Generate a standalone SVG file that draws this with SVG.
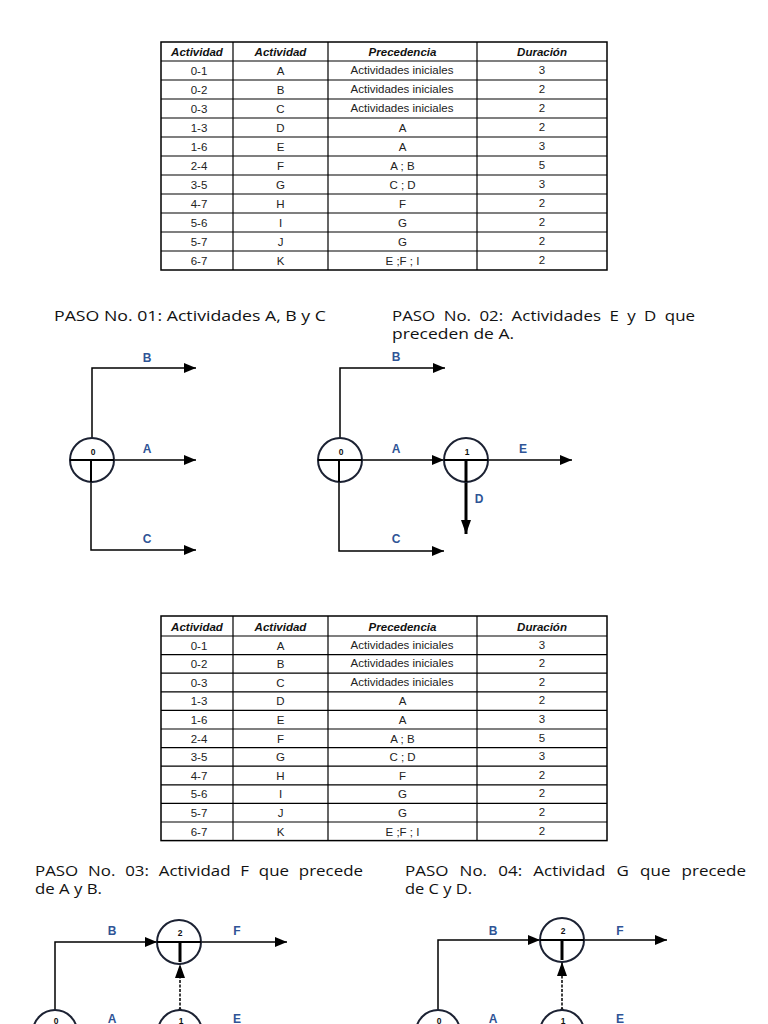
<svg xmlns="http://www.w3.org/2000/svg" width="768" height="1024" viewBox="0 0 768 1024">
<style>
.tl{stroke:#000;stroke-width:1.2;fill:none}
.tb{stroke:#000;stroke-width:1.5;fill:none}
.th{font-family:"Liberation Sans",Arial,sans-serif;font-size:11.5px;font-weight:bold;font-style:italic;text-anchor:middle;fill:#111}
.td{font-family:"Liberation Sans",Arial,sans-serif;font-size:11.5px;text-anchor:middle;fill:#222}
.title{font-family:"Open Sans","Noto Sans",sans-serif;font-size:15px;fill:#111}
.ln{stroke:#000;stroke-width:1.5;fill:none}
.thk{stroke:#000;stroke-width:3;fill:none}
.dash{stroke:#000;stroke-width:1.5;fill:none;stroke-dasharray:3 1.5}
.nc{fill:#fff;stroke:#1c2233;stroke-width:2}
.nd{stroke:#000;stroke-width:2;fill:none}
.nl{font-family:"Liberation Sans",Arial,sans-serif;font-size:8.5px;font-weight:bold;text-anchor:middle;fill:#111}
.el{font-family:"Liberation Sans",Arial,sans-serif;font-size:12px;font-weight:bold;text-anchor:middle;fill:#2F5496}
</style>
<defs>
<marker id="ah" viewBox="0 0 12 10" refX="12" refY="5" markerWidth="12" markerHeight="10" markerUnits="userSpaceOnUse" orient="auto"><path d="M0,0 L12,5 L0,10 z" fill="#000"/></marker>
<marker id="ahd" viewBox="0 0 14 10" refX="14" refY="5" markerWidth="14" markerHeight="10" markerUnits="userSpaceOnUse" orient="auto"><path d="M0,0 L14,5 L0,10 z" fill="#000"/></marker>
</defs>
<rect width="768" height="1024" fill="#fff"/>

<!-- Table 1 -->
<g id="table1">
<rect class="tb" x="161" y="42" width="446" height="228"/>
<path class="tl" d="M233,42V270M328,42V270M477,42V270"/>
<path class="tl" d="M161,61H607M161,80H607M161,99H607M161,118H607M161,137H607M161,156H607M161,175H607M161,194H607M161,213H607M161,232H607M161,251H607"/>
<text class="th" x="197" y="56">Actividad</text><text class="th" x="280.5" y="56">Actividad</text><text class="th" x="402.5" y="56">Precedencia</text><text class="th" x="542" y="56">Duración</text>
<text class="td" x="199" y="75">0-1</text><text class="td" x="280.5" y="75">A</text><text class="td" x="402" y="74">Actividades iniciales</text><text class="td" x="542" y="74">3</text>
<text class="td" x="199" y="94">0-2</text><text class="td" x="280.5" y="94">B</text><text class="td" x="402" y="93">Actividades iniciales</text><text class="td" x="542" y="93">2</text>
<text class="td" x="199" y="113">0-3</text><text class="td" x="280.5" y="113">C</text><text class="td" x="402" y="112">Actividades iniciales</text><text class="td" x="542" y="112">2</text>
<text class="td" x="199" y="132">1-3</text><text class="td" x="280.5" y="132">D</text><text class="td" x="402.5" y="132">A</text><text class="td" x="542" y="131">2</text>
<text class="td" x="199" y="151">1-6</text><text class="td" x="280.5" y="151">E</text><text class="td" x="402.5" y="151">A</text><text class="td" x="542" y="150">3</text>
<text class="td" x="199" y="170">2-4</text><text class="td" x="280.5" y="170">F</text><text class="td" x="402.5" y="170">A ; B</text><text class="td" x="542" y="169">5</text>
<text class="td" x="199" y="189">3-5</text><text class="td" x="280.5" y="189">G</text><text class="td" x="402.5" y="189">C ; D</text><text class="td" x="542" y="188">3</text>
<text class="td" x="199" y="208">4-7</text><text class="td" x="280.5" y="208">H</text><text class="td" x="402.5" y="208">F</text><text class="td" x="542" y="207">2</text>
<text class="td" x="199" y="227">5-6</text><text class="td" x="280.5" y="227">I</text><text class="td" x="402.5" y="227">G</text><text class="td" x="542" y="226">2</text>
<text class="td" x="199" y="246">5-7</text><text class="td" x="280.5" y="246">J</text><text class="td" x="402.5" y="246">G</text><text class="td" x="542" y="245">2</text>
<text class="td" x="199" y="265">6-7</text><text class="td" x="280.5" y="265">K</text><text class="td" x="402.5" y="265">E ;F ;  I</text><text class="td" x="542" y="264">2</text>
</g>

<!-- Titles -->
<text class="title" x="54" y="320.5" textLength="272" lengthAdjust="spacingAndGlyphs">PASO No. 01: Actividades A, B y C</text>
<text class="title" x="392" y="320.5" word-spacing="3.6" textLength="303" lengthAdjust="spacingAndGlyphs">PASO No. 02: Actividades E y D que</text>
<text class="title" x="392" y="339" textLength="122" lengthAdjust="spacingAndGlyphs">preceden de A.</text>

<!-- Step 1 -->
<g id="connectors1">
<path class="ln" d="M92,438V368H196" marker-end="url(#ah)"/>
<path class="ln" d="M114,460H196" marker-end="url(#ah)"/>
<path class="ln" d="M91,482V550H196" marker-end="url(#ah)"/>
<text class="el" x="147" y="362">B</text>
<text class="el" x="147" y="453">A</text>
<text class="el" x="147" y="543">C</text>
</g>
<g id="s1n0">
<circle class="nc" cx="92" cy="460" r="22"/>
<path class="nd" d="M70,460H114M91,460V482"/>
<text class="nl" x="93" y="455">0</text>
</g>

<!-- Step 2 -->
<g id="connectors2">
<path class="ln" d="M340,438V368H445" marker-end="url(#ah)"/>
<path class="ln" d="M362,460H444" marker-end="url(#ah)"/>
<path class="ln" d="M339,482V551H444" marker-end="url(#ah)"/>
<path class="ln" d="M488,460H572" marker-end="url(#ah)"/>
<path class="thk" d="M466,482V534" marker-end="url(#ahd)"/>
<text class="el" x="396" y="361">B</text>
<text class="el" x="396" y="453">A</text>
<text class="el" x="396" y="543">C</text>
<text class="el" x="523" y="453">E</text>
<text class="el" x="479" y="503">D</text>
</g>
<g id="s2n0">
<circle class="nc" cx="340" cy="460" r="22"/>
<path class="nd" d="M318,460H362M339,460V482"/>
<text class="nl" x="341" y="455">0</text>
</g>
<g id="s2n1">
<circle class="nc" cx="466" cy="460" r="22"/>
<path class="nd" d="M444,460H488"/>
<path class="thk" d="M466,460V482"/>
<text class="nl" x="467" y="455">1</text>
</g>

<!-- Table 2 -->
<g id="table2">
<rect class="tb" x="161" y="616" width="446" height="224.6"/>
<path class="tl" d="M233,616V840.6M328,616V840.6M477,616V840.6"/>
<path class="tl" d="M161,636H607M161,654.6H607M161,673.2H607M161,691.8H607M161,710.4H607M161,729H607M161,747.6H607M161,766.2H607M161,784.8H607M161,803.4H607M161,822H607"/>
<text class="th" x="197" y="630.5">Actividad</text><text class="th" x="280.5" y="630.5">Actividad</text><text class="th" x="402.5" y="630.5">Precedencia</text><text class="th" x="542" y="630.5">Duración</text>
<text class="td" x="199" y="649.5">0-1</text><text class="td" x="280.5" y="649.5">A</text><text class="td" x="402" y="648.5">Actividades iniciales</text><text class="td" x="542" y="648.5">3</text>
<text class="td" x="199" y="668.1">0-2</text><text class="td" x="280.5" y="668.1">B</text><text class="td" x="402" y="667.1">Actividades iniciales</text><text class="td" x="542" y="667.1">2</text>
<text class="td" x="199" y="686.7">0-3</text><text class="td" x="280.5" y="686.7">C</text><text class="td" x="402" y="685.7">Actividades iniciales</text><text class="td" x="542" y="685.7">2</text>
<text class="td" x="199" y="705.3">1-3</text><text class="td" x="280.5" y="705.3">D</text><text class="td" x="402.5" y="705.3">A</text><text class="td" x="542" y="704.3">2</text>
<text class="td" x="199" y="723.9">1-6</text><text class="td" x="280.5" y="723.9">E</text><text class="td" x="402.5" y="723.9">A</text><text class="td" x="542" y="722.9">3</text>
<text class="td" x="199" y="742.5">2-4</text><text class="td" x="280.5" y="742.5">F</text><text class="td" x="402.5" y="742.5">A ; B</text><text class="td" x="542" y="741.5">5</text>
<text class="td" x="199" y="761.1">3-5</text><text class="td" x="280.5" y="761.1">G</text><text class="td" x="402.5" y="761.1">C ; D</text><text class="td" x="542" y="760.1">3</text>
<text class="td" x="199" y="779.7">4-7</text><text class="td" x="280.5" y="779.7">H</text><text class="td" x="402.5" y="779.7">F</text><text class="td" x="542" y="778.7">2</text>
<text class="td" x="199" y="798.3">5-6</text><text class="td" x="280.5" y="798.3">I</text><text class="td" x="402.5" y="798.3">G</text><text class="td" x="542" y="797.3">2</text>
<text class="td" x="199" y="816.9">5-7</text><text class="td" x="280.5" y="816.9">J</text><text class="td" x="402.5" y="816.9">G</text><text class="td" x="542" y="815.9">2</text>
<text class="td" x="199" y="835.5">6-7</text><text class="td" x="280.5" y="835.5">K</text><text class="td" x="402.5" y="835.5">E ;F ;  I</text><text class="td" x="542" y="834.5">2</text>
</g>

<text class="title" x="35" y="876" word-spacing="4.8" textLength="328" lengthAdjust="spacingAndGlyphs">PASO No. 03: Actividad F que precede</text>
<text class="title" x="35" y="894" textLength="67" lengthAdjust="spacingAndGlyphs">de A y B.</text>
<text class="title" x="405" y="876" word-spacing="6" textLength="341" lengthAdjust="spacingAndGlyphs">PASO No. 04: Actividad G que precede</text>
<text class="title" x="405" y="894" textLength="67" lengthAdjust="spacingAndGlyphs">de C y D.</text>

<!-- Step 3 -->
<g id="connectors3">
<path class="ln" d="M55,1010V942H157" marker-end="url(#ah)"/>
<path class="ln" d="M201,942H287" marker-end="url(#ah)"/>
<path class="dash" d="M180,1010V964" marker-end="url(#ahd)"/>
<circle cx="180" cy="1010" r="1.8" fill="#000"/>
<text class="el" x="112" y="935">B</text>
<text class="el" x="237" y="935">F</text>
<text class="el" x="112" y="1023">A</text>
<text class="el" x="237" y="1023">E</text>
</g>
<g id="s3n2">
<circle class="nc" cx="179" cy="942" r="22"/>
<path class="nd" d="M157,942H201"/>
<path class="thk" d="M180,942V962"/>
<text class="nl" x="180" y="936">2</text>
</g>
<g id="s3n0">
<circle class="nc" cx="55" cy="1032" r="22"/>
<text class="nl" x="56" y="1024">0</text>
</g>
<g id="s3n1">
<circle class="nc" cx="180" cy="1032" r="22"/>
<text class="nl" x="181" y="1024">1</text>
</g>

<!-- Step 4 -->
<g id="connectors4">
<path class="ln" d="M438,1010V940H540" marker-end="url(#ah)"/>
<path class="ln" d="M584,940H667" marker-end="url(#ah)"/>
<path class="dash" d="M562,1010V962" marker-end="url(#ahd)"/>
<circle cx="562" cy="1010" r="1.8" fill="#000"/>
<text class="el" x="493" y="935">B</text>
<text class="el" x="620" y="935">F</text>
<text class="el" x="493" y="1023">A</text>
<text class="el" x="620" y="1023">E</text>
</g>
<g id="s4n2">
<circle class="nc" cx="562" cy="940" r="22"/>
<path class="nd" d="M540,940H584"/>
<path class="thk" d="M562,940V960"/>
<text class="nl" x="563" y="934">2</text>
</g>
<g id="s4n0">
<circle class="nc" cx="438" cy="1032" r="22"/>
<text class="nl" x="439" y="1024">0</text>
</g>
<g id="s4n1">
<circle class="nc" cx="562" cy="1032" r="22"/>
<text class="nl" x="563" y="1024">1</text>
</g>
</svg>
